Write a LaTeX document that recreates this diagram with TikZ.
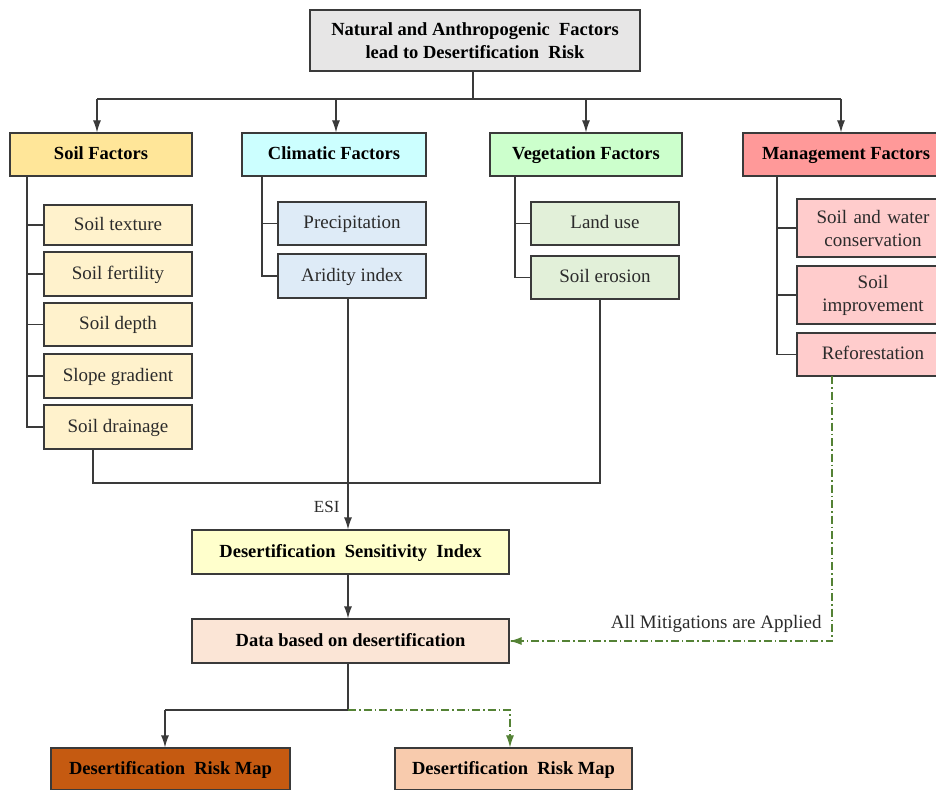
\documentclass[tikz,border=0pt]{standalone}
\usepackage{fontspec}
\setmainfont{Liberation Serif}
\usetikzlibrary{arrows.meta,calc}
\definecolor{bordc}{HTML}{3A3A3A}
\definecolor{txtc}{HTML}{2B2B2B}
\definecolor{cTop}{HTML}{E7E6E6}
\definecolor{cSoil}{HTML}{FFE699}
\definecolor{cClim}{HTML}{CCFFFF}
\definecolor{cVeg}{HTML}{CCFFCC}
\definecolor{cMan}{HTML}{FF9999}
\definecolor{cSoilS}{HTML}{FFF2CC}
\definecolor{cClimS}{HTML}{DEEBF7}
\definecolor{cVegS}{HTML}{E2F0D9}
\definecolor{cManS}{HTML}{FFCCCC}
\definecolor{cDSI}{HTML}{FFFFCC}
\definecolor{cData}{HTML}{FBE5D6}
\definecolor{cRisk}{HTML}{C55A11}
\definecolor{cRiskB}{HTML}{F8CBAD}
\definecolor{cMit}{HTML}{548235}
\tikzset{
  box/.style={draw=bordc, line width=1.2pt, rectangle, inner sep=2pt, align=center},
  one/.style={text depth=0.25em},
  hbox/.style={box, font=\fontsize{18.5}{23}\selectfont\bfseries, text=black},
  sbox/.style={box, font=\fontsize{19}{23}\selectfont, text=txtc},
  conn/.style={draw=bordc, line width=1.2pt},
  arr/.style={conn, -{Latex[length=12pt,width=8pt]}},
  mit/.style={draw=cMit, line width=1.1pt, dash pattern=on 8pt off 3pt on 1.5pt off 3pt},
  mitarr/.style={mit, solid, -{Latex[length=12pt,width=8pt]}},
  lbl/.style={text=txtc}
}
\begin{document}
\begin{tikzpicture}[x=1pt,y=-1pt]
\useasboundingbox (0,0) rectangle (936,789);
\clip (0,0) rectangle (936,789);
\fill[white] (0,0) rectangle (936,789);

% top
\node[hbox, fill=cTop, minimum width=330pt, minimum height=61pt] (top) at (475,40.5)
  {Natural and Anthropogenic\ \ Factors\\lead to Desertification\ \ Risk};

% factor headers
\node[hbox, one, fill=cSoil, minimum width=182pt, minimum height=43pt] (soilF) at (101,154.5) {Soil Factors};
\node[hbox, one, fill=cClim, minimum width=184pt, minimum height=43pt] (climF) at (334,154.5) {Climatic Factors};
\node[hbox, one, fill=cVeg, minimum width=192pt, minimum height=43pt] (vegF) at (586,154.5) {Vegetation Factors};
\node[hbox, one, fill=cMan, minimum width=206pt, minimum height=43pt] (manF) at (846,154.5) {Management Factors};

% bus
\coordinate (bus) at (473,99);
\coordinate (b1) at (97,99);
\coordinate (b2) at (336,99);
\coordinate (b3) at (586,99);
\coordinate (b4) at (841,99);
\draw[conn] (top.south -| bus) -- (bus);
\draw[conn] (b1) -- (b4);
\draw[arr] (b1) -- (b1 |- soilF.north);
\draw[arr] (b2) -- (b2 |- climF.north);
\draw[arr] (b3) -- (b3 |- vegF.north);
\draw[arr] (b4) -- (b4 |- manF.north);

% soil sub items
\node[sbox, one, fill=cSoilS, minimum width=148pt, minimum height=40pt] (st) at (118,225) {Soil texture};
\node[sbox, one, fill=cSoilS, minimum width=148pt, minimum height=44pt] (sf) at (118,274) {Soil fertility};
\node[sbox, one, fill=cSoilS, minimum width=148pt, minimum height=43pt] (sdp) at (118,324.5) {Soil depth};
\node[sbox, one, fill=cSoilS, minimum width=148pt, minimum height=44pt] (sg) at (118,376) {Slope gradient};
\node[sbox, one, fill=cSoilS, minimum width=148pt, minimum height=44pt] (sdr) at (118,427) {Soil drainage};
\coordinate (sv) at (27,176);
\draw[conn] (sv) |- (st.west);
\draw[conn] (sv) |- (sf.west);
\draw[conn] (sv) |- (sdp.west);
\draw[conn] (sv) |- (sg.west);
\draw[conn] (sv) |- (sdr.west);

% climatic sub items
\node[sbox, one, fill=cClimS, minimum width=148pt, minimum height=43pt] (pr) at (352,223.5) {Precipitation};
\node[sbox, one, fill=cClimS, minimum width=148pt, minimum height=44pt] (ai) at (352,276) {Aridity index};
\coordinate (cv) at (262,176);
\draw[conn] (cv) |- (pr.west);
\draw[conn] (cv) |- (ai.west);

% vegetation sub items
\node[sbox, one, fill=cVegS, minimum width=148pt, minimum height=43pt] (lu) at (605,223.5) {Land use};
\node[sbox, one, fill=cVegS, minimum width=148pt, minimum height=43pt] (se) at (605,277.5) {Soil erosion};
\coordinate (vv) at (515,176);
\draw[conn] (vv) |- (lu.west);
\draw[conn] (vv) |- (se.west);

% management sub items
\node[sbox, fill=cManS, minimum width=152pt, minimum height=58pt, text width=140pt] (swc) at (873,228) {Soil and water\\conservation};
\node[sbox, fill=cManS, minimum width=152pt, minimum height=58pt, text width=140pt] (si) at (873,295) {Soil\\improvement};
\node[sbox, one, fill=cManS, minimum width=152pt, minimum height=43pt] (rf) at (873,354.5) {Reforestation};
\coordinate (mv) at (777,176);
\draw[conn] (mv) |- (swc.west);
\draw[conn] (mv) |- (si.west);
\draw[conn] (mv) |- (rf.west);

% DSI and data
\node[hbox, one, fill=cDSI, minimum width=317pt, minimum height=44pt] (dsi) at (350.5,552) {Desertification\ \ Sensitivity\ \ Index};
\node[hbox, one, fill=cData, minimum width=317pt, minimum height=44pt] (data) at (350.5,641) {Data based on desertification};

% gather lines
\coordinate (j1) at (93,483);
\coordinate (j2) at (600,483);
\coordinate (ax) at (348,483);
\draw[conn] (sdr.south -| j1) -- (j1) -- (j2) -- (j2 |- se.south);
\draw[arr] (ai.south -| ax) -- (ax |- dsi.north);
\node[lbl, anchor=east, font=\fontsize{17}{20}\selectfont] (esi) at (343,507) {ESI};
\draw[arr] (dsi.south -| ax) -- (ax |- data.north);

% mitigation
\coordinate (m1) at (832,376);
\draw[mit] (m1) |- (data.east);
\draw[mitarr] ($(data.east)+(4,0)$) -- (data.east);
\node[lbl, anchor=south east, font=\fontsize{19}{22}\selectfont] (mlab) at (825,636) {All Mitigations are Applied};

% risk maps
\node[hbox, one, fill=cRisk, minimum width=239pt, minimum height=42pt] (r1) at (170.5,769) {Desertification\ \ Risk Map};
\node[hbox, one, fill=cRiskB, minimum width=237pt, minimum height=42pt] (r2) at (513.5,769) {Desertification\ \ Risk Map};
\coordinate (split) at (348,710);
\coordinate (r1x) at (165,710);
\coordinate (r2x) at (510,710);
\draw[conn] (data.south -| split) -- (split) -- (r1x);
\draw[arr] (r1x) -- (r1x |- r1.north);
\draw[mit] (split) -- (r2x) -- ($(r2x |- r2.north)+(0,-4)$);
\draw[mitarr] ($(r2x |- r2.north)+(0,-4)$) -- (r2x |- r2.north);
\end{tikzpicture}
\end{document}
